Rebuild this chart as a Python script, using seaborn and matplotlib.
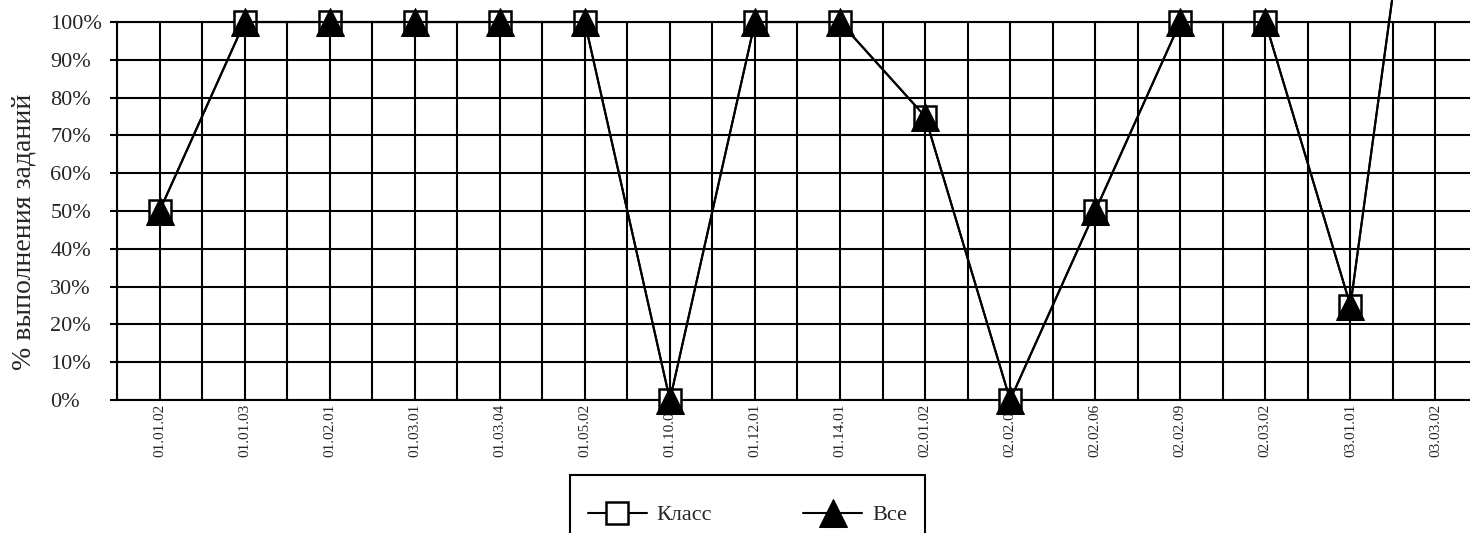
import matplotlib
matplotlib.use("Agg")
import pandas as pd
import matplotlib.pyplot as plt
from matplotlib.ticker import PercentFormatter, MultipleLocator
import seaborn as sns

# коды заданий и доля выполнения
codes = ["01.01.02", "01.01.03", "01.02.01", "01.03.01", "01.03.04", "01.05.02",
         "01.10.01", "01.12.01", "01.14.01", "02.01.02", "02.02.01", "02.02.06",
         "02.02.09", "02.03.02", "03.01.01", "03.03.02"]
klass = [0.50, 1.00, 1.00, 1.00, 1.00, 1.00, 0.00, 1.00, 1.00, 0.75, 0.00, 0.50,
         1.00, 1.00, 0.25, 1.90]
vse = [0.50, 1.00, 1.00, 1.00, 1.00, 1.00, 0.00, 1.00, 1.00, 0.75, 0.00, 0.50,
       1.00, 1.00, 0.25, 1.90]


def main():
    sns.set_style("white")
    plt.rcParams["font.family"] = ["Liberation Serif", "DejaVu Serif"]

    df = pd.DataFrame({"code": codes, "Класс": klass, "Все": vse})

    fig = plt.figure(figsize=(14.7, 5.33), dpi=100)
    ax = fig.add_axes([117 / 1470, 133 / 533, 1361 / 1470, 378 / 533])

    sns.lineplot(data=df, x="code", y="Класс", sort=False, color="black",
                 linewidth=1.5, marker="s", markersize=15.5,
                 markerfacecolor="white", markeredgecolor="black",
                 markeredgewidth=1.8, label="Класс", ax=ax)
    sns.lineplot(data=df, x="code", y="Все", sort=False, color="black",
                 linewidth=1.5, marker="^", markersize=20,
                 markerfacecolor="black", markeredgecolor="black",
                 label="Все", ax=ax)
    for line in ax.lines:
        line.set_clip_on(False)
        line.set_zorder(5)

    ax.set_xlim(-0.5, len(codes) - 0.5)
    ax.set_ylim(0, 1)
    ax.yaxis.set_major_locator(MultipleLocator(0.1))
    ax.yaxis.set_major_formatter(PercentFormatter(1.0, decimals=0))
    ax.xaxis.set_minor_locator(MultipleLocator(1, offset=0.5))

    ax.grid(True, which="both", color="black", linewidth=1.5)
    ax.set_axisbelow(True)
    for side in ["left", "bottom", "top", "right"]:
        ax.spines[side].set_color("black")
        ax.spines[side].set_linewidth(1.5)

    ax.tick_params(axis="x", which="both", length=0, pad=3, labelsize=11,
                   labelrotation=90)
    ax.tick_params(axis="y", length=5, width=1.5, color="black", pad=43,
                   labelsize=16, left=True)
    for lbl in ax.get_yticklabels():
        lbl.set_horizontalalignment("left")

    ax.set_xlabel("")
    ax.set_ylabel("% выполнения заданий", fontsize=20)
    ax.yaxis.set_label_coords(-0.059, 0.444)

    handles, labels = ax.get_legend_handles_labels()
    ax.get_legend().remove()
    # пустой заголовок даёт отступ сверху, как в исходнике
    leg = fig.legend(handles, labels, loc="upper left",
                     bbox_to_anchor=(570 / 1470, 1 - 475 / 533), ncol=2,
                     fontsize=16, frameon=True, fancybox=False, framealpha=1,
                     edgecolor="black", borderpad=0.8, borderaxespad=0,
                     handlelength=2.65, handletextpad=0.45, columnspacing=4.1,
                     numpoints=1, title=" ", title_fontsize=1)
    leg.get_frame().set_linewidth(1.5)

    fig.savefig("out.png", dpi=100)


if __name__ == '__main__':
    main()
